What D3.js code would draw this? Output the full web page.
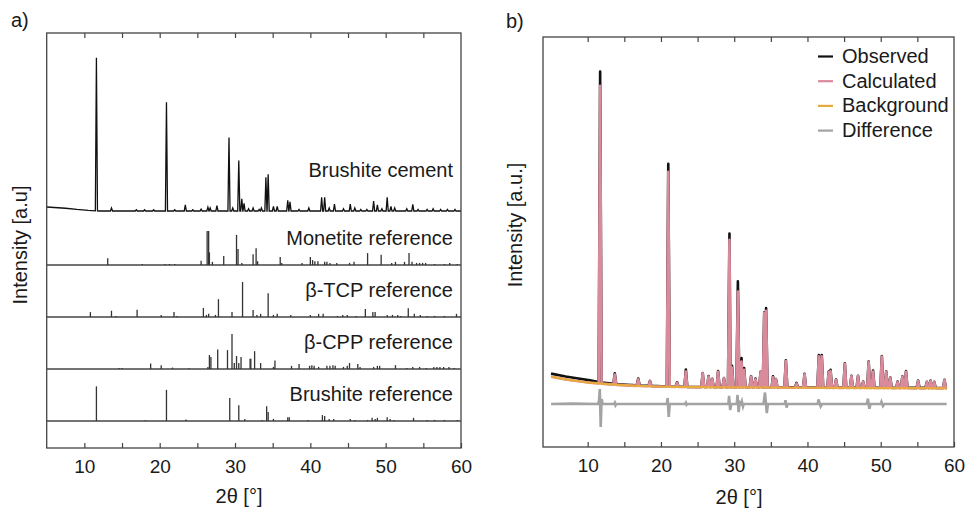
<!DOCTYPE html>
<!-- XRD patterns: a) cement vs reference sticks, b) Rietveld refinement -->
<meta charset="utf-8">
<style>
 body { margin: 0; background: #fff; }
 text { font-family: Arial, "Liberation Sans", sans-serif; fill: #1a1a1a; }
 .frame { fill: none; stroke: #444; stroke-width: 1.3px; }
 .tick line { stroke: #444; stroke-width: 1.2px; }
 .tick text { font-size: 19px; }
 .stick { stroke: #333; stroke-width: 1.3px; }
 .sep { stroke: #444; stroke-width: 1.3px; }
</style>
<svg id="chart" width="968" height="511"></svg>
<script src="https://cdn.jsdelivr.net/npm/d3@7"></script>
<script>

 var xTicks = [10, 15, 20, 25, 30, 35, 40, 45, 50, 55, 60];

 // panel a -- measured cement pattern, background and peaks [2theta, intensity %]
 var cementBg = [[5, 2.6], [6, 2.3], [7.5, 1.8], [9, 1.0], [10.5, 0.4], [12, 0], [60, 0]];
 var cementPeaks = [
     [11.6, 100], [13.6, 2], [16.9, 0.8], [18.0, 0.8], [19.2, 0.8], [20.9, 71], [22.0, 0.8],
     [23.4, 4], [24.4, 0.8], [25.5, 1.2], [26.4, 2.5], [26.7, 2], [27.6, 3.5], [29.2, 48],
     [29.7, 2], [30.5, 33], [30.9, 8], [31.2, 5], [31.8, 1.5], [32.4, 2], [33.2, 1],
     [33.5, 2], [34.1, 22], [34.4, 24], [35.1, 3], [35.6, 3], [37.0, 7], [37.3, 6],
     [38.5, 1], [39.8, 2], [41.5, 9], [41.9, 9], [42.5, 2], [43.2, 4.5], [44.4, 1.5],
     [45.3, 4.5], [45.9, 2], [46.7, 1], [47.5, 1], [48.4, 6.5], [48.9, 4], [49.5, 1.5],
     [50.2, 9], [50.7, 3], [51.2, 2], [52.8, 1.5], [53.6, 4.4], [54.3, 1], [55.5, 1],
     [56.3, 1.5], [57.3, 1], [58.2, 1], [59.2, 1]
 ];

 // reference stick patterns [2theta, relative intensity]
 var monetiteRef = [
     [13.1, 19], [17.7, 3], [20.7, 3], [21.3, 3], [22.0, 3], [25.5, 12], [26.3, 97], [26.5, 97],
     [26.6, 36], [27.0, 9], [28.5, 26], [30.2, 86], [30.4, 46], [30.9, 6], [32.4, 31],
     [32.8, 48], [33.0, 11], [36.0, 23], [36.2, 6], [38.9, 6], [40.0, 23], [40.3, 14],
     [40.6, 11], [41.0, 11], [41.9, 9], [42.2, 9], [42.6, 6], [43.5, 6], [45.2, 6], [45.8, 9],
     [47.6, 34], [49.4, 29], [50.8, 6], [51.3, 9], [52.5, 9], [53.1, 34], [53.5, 9],
     [54.1, 6], [54.5, 6], [54.9, 6], [55.3, 6], [56.5, 3], [57.8, 3], [58.5, 6], [59.5, 3]
 ];
 var tcpRef = [
     [10.8, 14], [13.6, 18], [14.2, 3], [17.0, 21], [20.2, 6], [21.9, 14], [22.3, 3],
     [25.8, 26], [26.2, 6], [26.5, 9], [27.4, 6], [27.8, 51], [29.6, 14], [31.0, 100],
     [32.4, 20], [32.9, 6], [33.4, 9], [34.4, 68], [35.1, 6], [35.6, 9], [37.4, 6],
     [40.0, 6], [41.1, 9], [41.7, 9], [43.6, 3], [44.3, 6], [44.9, 6], [46.1, 3], [47.3, 23],
     [48.3, 14], [48.6, 14], [50.2, 6], [50.9, 6], [51.6, 6], [52.0, 3], [53.0, 25],
     [53.8, 9], [54.6, 6], [55.5, 3], [56.5, 3], [57.8, 3], [59.4, 9]
 ];
 var cppRef = [
     [14.6, 3], [15.0, 3], [18.8, 16], [20.2, 11], [21.7, 4], [23.9, 2], [26.4, 6], [26.6, 40],
     [26.8, 34], [27.7, 56], [29.0, 54], [29.6, 100], [29.9, 17], [30.2, 37], [30.5, 17],
     [30.8, 34], [32.0, 29], [32.1, 29], [32.6, 51], [33.4, 17], [35.1, 6], [35.3, 24],
     [37.5, 9], [38.5, 14], [39.9, 9], [40.2, 11], [40.5, 9], [41.1, 6], [42.2, 9], [42.6, 9],
     [43.0, 11], [43.3, 9], [44.4, 6], [44.9, 9], [45.2, 17], [46.3, 14], [46.6, 6],
     [48.4, 6], [48.9, 9], [49.2, 9], [51.3, 11], [52.8, 3], [53.6, 6], [54.5, 6], [55.4, 3],
     [56.4, 6], [56.8, 6], [57.2, 6], [57.7, 6], [58.4, 6], [59.1, 3]
 ];
 var brushiteRef = [
     [11.6, 99], [18.1, 2], [20.9, 89], [23.5, 4], [29.3, 66], [30.5, 45], [31.3, 6], [33.6, 2],
     [34.2, 42], [34.4, 26], [35.1, 6], [37.0, 11], [37.2, 11], [39.7, 3], [41.6, 17],
     [41.9, 14], [42.5, 6], [43.1, 6], [45.3, 6], [45.9, 3], [47.6, 3], [48.2, 9], [48.6, 6],
     [48.9, 9], [50.2, 11], [50.6, 6], [51.1, 3], [53.7, 9], [55.5, 3], [56.5, 3], [57.8, 3],
     [59.5, 3]
 ];
 var refNames = ["Monetite reference", "\u03b2-TCP reference", "\u03b2-CPP reference", "Brushite reference"];

 // panel b -- refinement [2theta, calculated, observed] above background (counts)
 var bgCurve = [[5.0, 1715], [7, 1650], [8.5, 1610], [10.3, 1568], [14, 1515], [17.1, 1488],
                [22, 1465], [28.5, 1456], [40, 1445], [50, 1438], [59, 1432]];
 var obsBase = [[5.0, 1790], [7, 1720], [8.5, 1675], [10.3, 1625], [12, 1570], [14, 1530],
                [17.1, 1500], [22, 1470], [28.5, 1460], [59, 1440]];
 var fitPeaks = [
     [11.7, 7260, 7580], [13.7, 250, 260], [16.9, 160, 170], [18.5, 120, 120], [21.0, 5240, 5430],
     [22.2, 100, 110], [23.4, 380, 420], [25.7, 340, 340], [26.5, 260, 270], [27.0, 200, 200],
     [27.8, 380, 390], [28.6, 220, 220], [29.35, 3600, 3745], [29.7, 480, 520], [30.5, 2335, 2580],
     [31.0, 630, 710], [31.35, 430, 470], [32.3, 265, 270], [32.9, 200, 210], [33.6, 380, 380],
     [34.1, 1820, 1830], [34.35, 1870, 1930], [35.3, 250, 270], [35.7, 200, 200], [37.05, 650, 660],
     [38.5, 100, 110], [39.6, 330, 330], [41.55, 770, 790], [41.95, 770, 790], [42.9, 380, 390],
     [43.15, 410, 430], [43.9, 200, 200], [45.1, 590, 590], [46.0, 290, 290], [46.9, 290, 290],
     [47.6, 150, 150], [48.35, 630, 640], [48.95, 400, 420], [50.15, 770, 770], [50.75, 400, 400],
     [51.3, 250, 250], [52.3, 150, 150], [52.95, 280, 280], [53.45, 400, 410], [55.1, 180, 180],
     [56.3, 150, 150], [56.8, 180, 180], [57.3, 150, 150], [58.7, 200, 200]
 ];
 var diffOffset = 1049;
 var diffPts = [
     [5.0, 0], [8, 10], [11.4, 0], [11.55, 80], [11.65, 366], [11.78, -561], [11.9, 120], [12.05, 0],
     [13.6, 0], [13.7, 30], [13.8, -30], [13.9, 0],
     [20.8, 0], [20.92, 146], [21.06, -317], [21.2, 0],
     [23.3, 0], [23.4, 30], [23.5, -20], [23.6, 0],
     [29.2, 0], [29.3, 200], [29.45, -150], [29.6, 0],
     [30.35, 0], [30.45, 220], [30.6, -200], [30.75, 40], [30.95, 0], [31.05, 60], [31.2, -60], [31.3, 0],
     [34.0, 0], [34.2, 280], [34.45, -220], [34.6, 0],
     [36.9, 0], [37.0, 90], [37.15, -90], [37.3, 0],
     [41.4, 0], [41.5, 110], [41.8, -60], [42.0, 0],
     [48.1, 0], [48.25, 130], [48.45, -120], [48.6, 0],
     [50.0, 0], [50.1, 50], [50.3, -50], [50.5, 0], [59.0, 0]
 ];
 var legendNames = ["Observed", "Calculated", "Background", "Difference"];
 var legendColors = ["#111111", "#d98a9b", "#e8aa3c", "#a3a3a3"];

 var svg = d3.select("#chart");

 // triangle peaks on top of a background curve
 function peakLine(bgPts, peaks, col, hw)
 {
     var bg = d3.scaleLinear().domain(bgPts.map(function(d) { return d[0]; }))
                              .range(bgPts.map(function(d) { return d[1]; }));
     var pts = bgPts.filter(function(b) {
         return !peaks.some(function(p) { return Math.abs(p[0] - b[0]) < hw; });
     }).map(function(b) { return [b[0], b[1]]; });
     peaks.forEach(function(p) {
         pts.push([p[0] - hw, bg(p[0] - hw)]);
         pts.push([p[0], bg(p[0]) + p[col]]);
         pts.push([p[0] + hw, bg(p[0] + hw)]);
     });
     pts.sort(function(a, b) { return a[0] - b[0]; });
     return pts;
 }

 function frameAxes(g, x, top, bottom)
 {
     var left = x.range()[0], right = x.range()[1];
     g.append("g").attr("transform", "translate(0," + bottom + ")")
      .call(d3.axisBottom(x).tickValues(xTicks).tickSizeInner(-5).tickSizeOuter(0).tickPadding(12)
            .tickFormat(function(d) { return d % 10 === 0 ? d : ""; }))
      .call(function(a) { a.select(".domain").remove(); });
     g.append("g").attr("transform", "translate(0," + top + ")")
      .call(d3.axisTop(x).tickValues(xTicks.slice(0, -1)).tickSizeInner(-5).tickSizeOuter(0).tickFormat(""))
      .call(function(a) { a.select(".domain").remove(); });
     g.append("rect").attr("class", "frame")
      .attr("x", left).attr("y", top).attr("width", right - left).attr("height", bottom - top);
 }

 // ---------- panel a ----------
 var xa = d3.scaleLinear().domain([5, 60]).range([46.7, 461]);
 var ga = svg.append("g");
 var yCement = d3.scaleLinear().domain([0, 100]).range([211, 58]);
 var bandBase = d3.scaleLinear().domain([0, 1]).range([265, 317]);
 var stickH = d3.scaleLinear().domain([0, 100]).range([0, 35]);

 ga.append("path")
   .datum(peakLine(cementBg, cementPeaks, 1, 0.14))
   .attr("fill", "none").attr("stroke", "#111").attr("stroke-width", 1.3)
   .attr("d", d3.line().x(function(d) { return xa(d[0]); }).y(function(d) { return yCement(d[1]); }));
 ga.append("text").attr("x", 453).attr("y", 177).attr("text-anchor", "end")
   .style("font-size", "20px").text("Brushite cement");

 [monetiteRef, tcpRef, cppRef, brushiteRef].forEach(function(ref, i) {
     var base = bandBase(i);
     ga.append("line").attr("class", "sep")
       .attr("x1", xa(5)).attr("x2", xa(60)).attr("y1", base).attr("y2", base);
     ga.selectAll(".s" + i).data(ref).enter().append("line")
       .attr("class", "stick s" + i)
       .attr("x1", function(d) { return xa(d[0]); }).attr("x2", function(d) { return xa(d[0]); })
       .attr("y1", base).attr("y2", function(d) { return base - stickH(d[1]); });
     ga.append("text").attr("x", 453).attr("y", base - 20).attr("text-anchor", "end")
       .style("font-size", "20px").text(refNames[i]);
 });

 frameAxes(ga, xa, 33, 448);
 ga.append("text").attr("transform", "translate(27,245) rotate(-90)").attr("text-anchor", "middle")
   .style("font-size", "20px").text("Intensity [a.u]");
 ga.append("text").attr("x", 239).attr("y", 503).attr("text-anchor", "middle")
   .style("font-size", "20px").text("2\u03b8 [\u00b0]");
 ga.append("text").attr("x", 11).attr("y", 27).style("font-size", "20px").text("a)");

 // ---------- panel b ----------
 var xb = d3.scaleLinear().domain([3.9, 60]).range([543, 954]);
 var yb = d3.scaleLinear().domain([0, 10000]).range([447, 37]);
 var gb = svg.append("g");
 var lineB = d3.line().x(function(d) { return xb(d[0]); }).y(function(d) { return yb(d[1]); });

 gb.append("path").datum(peakLine(obsBase, fitPeaks, 2, 0.2))
   .attr("fill", "none").attr("stroke", legendColors[0]).attr("stroke-width", 2.6)
   .attr("stroke-linejoin", "round").attr("d", lineB);
 gb.append("path").datum(peakLine(bgCurve, fitPeaks, 1, 0.2))
   .attr("fill", "none").attr("stroke", legendColors[1]).attr("stroke-width", 2.6)
   .attr("stroke-linejoin", "round").attr("d", lineB);
 gb.append("path").datum(bgCurve)
   .attr("fill", "none").attr("stroke", legendColors[2]).attr("stroke-width", 2.2)
   .attr("d", d3.line().curve(d3.curveMonotoneX)
                .x(function(d) { return xb(d[0]); }).y(function(d) { return yb(d[1]); }));
 gb.append("path").datum(diffPts)
   .attr("fill", "none").attr("stroke", legendColors[3]).attr("stroke-width", 2.6)
   .attr("d", d3.line().x(function(d) { return xb(d[0]); }).y(function(d) { return yb(d[1] + diffOffset); }));

 frameAxes(gb, xb, 37, 447);
 gb.append("text").attr("transform", "translate(522,225) rotate(-90)").attr("text-anchor", "middle")
   .style("font-size", "20px").text("Intensity [a.u.]");
 gb.append("text").attr("x", 739).attr("y", 504).attr("text-anchor", "middle")
   .style("font-size", "20px").text("2\u03b8 [\u00b0]");
 gb.append("text").attr("x", 506).attr("y", 28).style("font-size", "20px").text("b)");

 var leg = gb.selectAll(".leg").data(legendNames).enter().append("g")
             .attr("transform", function(d, i) { return "translate(818," + (56.5 + i * 24.7) + ")"; });
 leg.append("line").attr("x1", 0).attr("x2", 15)
    .attr("stroke", function(d, i) { return legendColors[i]; }).attr("stroke-width", 2.2);
 leg.append("text").attr("x", 24).attr("y", 6.5).style("font-size", "20px").text(function(d) { return d; });

</script>
